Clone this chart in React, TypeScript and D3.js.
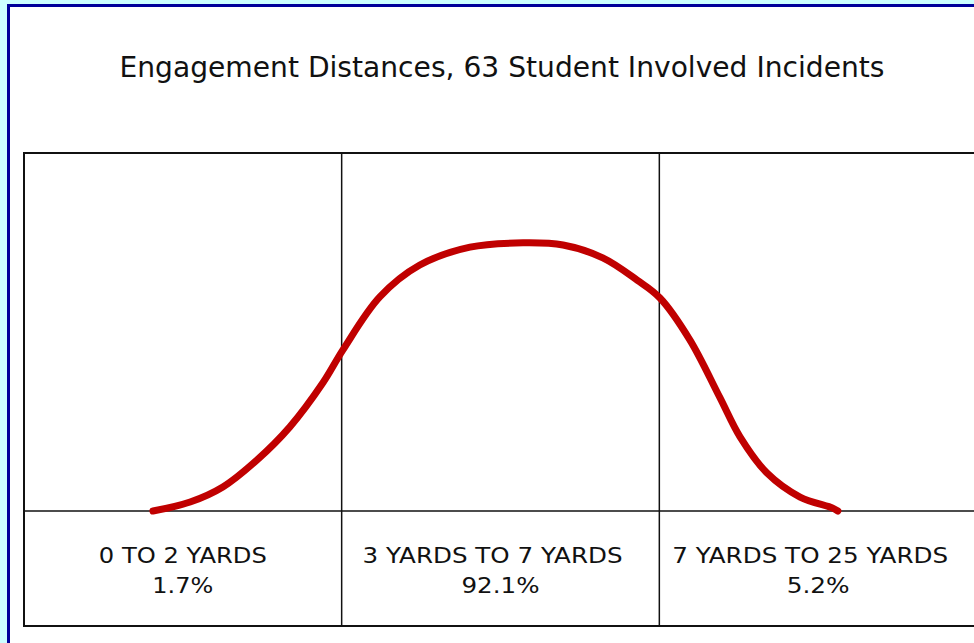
import React from "react";
import * as d3 from "d3";

const TITLE = "Engagement Distances, 63 Student Involved Incidents";
const categories = ["0 TO 2 YARDS", "3 YARDS TO 7 YARDS", "7 YARDS TO 25 YARDS"];
const percents = ["1.7%", "92.1%", "5.2%"];
// curve points: x in column units (0..3), y relative height (0..1)
const curveX = [0.406, 0.523, 0.626, 0.733, 0.837, 0.941, 1.004, 1.12, 1.246, 1.404, 1.571, 1.697, 1.822, 1.93, 2.002, 2.096, 2.19, 2.254, 2.339, 2.443, 2.546, 2.562];
const curveY = [0.0, 0.025, 0.067, 0.142, 0.235, 0.358, 0.45, 0.598, 0.687, 0.737, 0.749, 0.743, 0.707, 0.645, 0.595, 0.478, 0.318, 0.207, 0.106, 0.039, 0.008, 0.0];

const W = 974;
const H = 643;
const boxLeft = 24;
const boxTop = 153;
const boxRight = 977;
const plotBottom = 511;
const boxBottom = 626;

export default function App() {
  const x = d3.scaleLinear().domain([0, 3]).range([boxLeft, boxRight]);
  const y = d3.scaleLinear().domain([0, 1]).range([plotBottom, boxTop]);
  const pts: [number, number][] = curveX.map((v, i) => [v, curveY[i]]);
  const line = d3
    .line<[number, number]>()
    .x((d) => x(d[0]))
    .y((d) => y(d[1]))
    .curve(d3.curveCatmullRom.alpha(0.5));
  const textWidths1 = [168, 260, 276];
  const textWidths2 = [61, 78, 63];
  const line1Shift = [0, -8, -8];
  return (
    <svg
      width={W}
      height={H}
      style={{ position: "absolute", left: 0, top: 0 }}
      fontFamily="'DejaVu Sans', Verdana, sans-serif"
    >
      <rect x={0} y={0} width={W} height={H} fill="#ccffff" />
      <rect x={8.5} y={5.5} width={W + 20} height={H + 20} fill="#ffffff" stroke="#000099" strokeWidth={3} />
      <text
        x={502}
        y={77}
        textAnchor="middle"
        fontSize={29}
        fill="#111"
        textLength={765}
        lengthAdjust="spacingAndGlyphs"
      >
        {TITLE}
      </text>
      <rect
        x={boxLeft}
        y={boxTop}
        width={boxRight - boxLeft}
        height={boxBottom - boxTop}
        fill="none"
        stroke="#111"
        strokeWidth={2}
      />
      <line x1={boxLeft} x2={boxRight} y1={plotBottom} y2={plotBottom} stroke="#111" strokeWidth={1.5} />
      {[1, 2].map((c) => (
        <line key={c} x1={x(c)} x2={x(c)} y1={boxTop} y2={boxBottom} stroke="#111" strokeWidth={1.5} />
      ))}
      <path d={line(pts) || ""} fill="none" stroke="#c00000" strokeWidth={7} strokeLinecap="round" />
      {categories.map((c, i) => (
        <g key={c}>
          <text
            x={x(i + 0.5) + line1Shift[i]}
            y={563}
            textAnchor="middle"
            fontSize={22}
            fill="#111"
            textLength={textWidths1[i]}
            lengthAdjust="spacingAndGlyphs"
          >
            {c}
          </text>
          <text
            x={x(i + 0.5)}
            y={593}
            textAnchor="middle"
            fontSize={22}
            fill="#111"
            textLength={textWidths2[i]}
            lengthAdjust="spacingAndGlyphs"
          >
            {percents[i]}
          </text>
        </g>
      ))}
    </svg>
  );
}
